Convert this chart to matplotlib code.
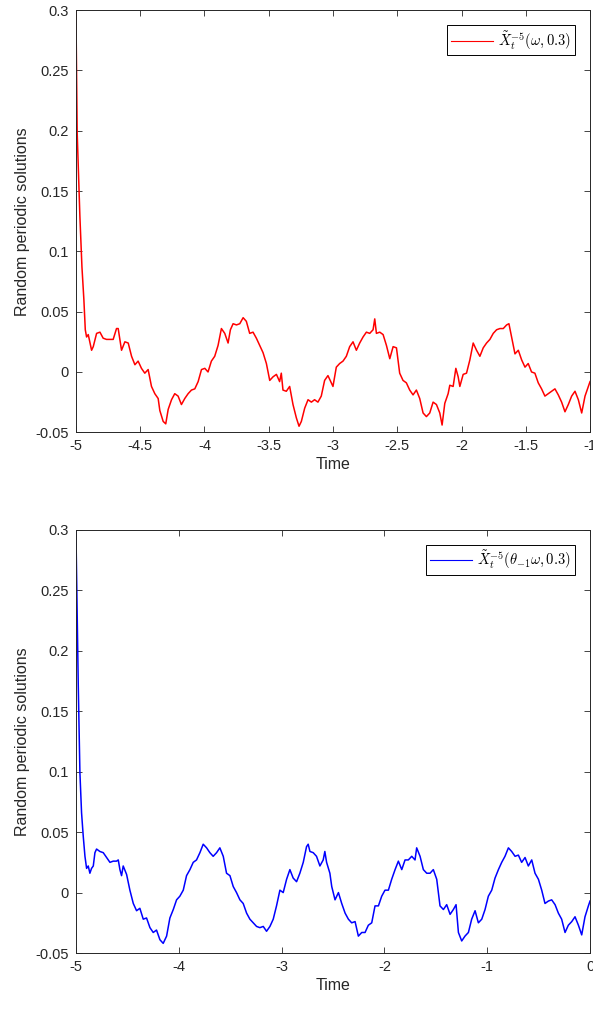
import matplotlib
matplotlib.use("Agg")
import matplotlib.pyplot as plt
from matplotlib.ticker import FixedLocator, FixedFormatter

plt.rcParams['font.family'] = ['Liberation Sans', 'DejaVu Sans']
plt.rcParams['mathtext.fontset'] = 'cm'
plt.rcParams['axes.unicode_minus'] = False

# === Data: X~_t^{-5}(omega, 0.3) ===
t_red = [-5.000, -4.990, -4.969, -4.953, -4.938, -4.927, -4.917, -4.904, -4.878, -4.865,
         -4.839, -4.813, -4.788, -4.762, -4.736, -4.710, -4.684, -4.671, -4.645, -4.619,
         -4.593, -4.567, -4.541, -4.516, -4.490, -4.464, -4.438, -4.412, -4.386, -4.360,
         -4.347, -4.321, -4.301, -4.282, -4.256, -4.231, -4.205, -4.179, -4.153, -4.127,
         -4.101, -4.075, -4.049, -4.023, -3.997, -3.972, -3.946, -3.920, -3.894, -3.868,
         -3.842, -3.816, -3.798, -3.777, -3.751, -3.725, -3.699, -3.674, -3.648, -3.622,
         -3.596, -3.570, -3.544, -3.518, -3.492, -3.466, -3.440, -3.415, -3.402, -3.389,
         -3.363, -3.337, -3.311, -3.285, -3.264, -3.246, -3.220, -3.194, -3.168, -3.143,
         -3.117, -3.091, -3.065, -3.039, -3.000, -2.974, -2.948, -2.922, -2.896, -2.870,
         -2.844, -2.818, -2.792, -2.766, -2.740, -2.714, -2.688, -2.675, -2.662, -2.636,
         -2.610, -2.584, -2.558, -2.532, -2.506, -2.481, -2.455, -2.429, -2.403, -2.377,
         -2.351, -2.325, -2.299, -2.273, -2.247, -2.221, -2.195, -2.169, -2.151, -2.130,
         -2.104, -2.091, -2.065, -2.044, -2.026, -2.013, -1.987, -1.961, -1.935, -1.909,
         -1.883, -1.857, -1.831, -1.805, -1.779, -1.753, -1.727, -1.701, -1.675, -1.649,
         -1.631, -1.610, -1.584, -1.558, -1.532, -1.506, -1.481, -1.455, -1.429, -1.403,
         -1.377, -1.351, -1.325, -1.299, -1.273, -1.247, -1.221, -1.195, -1.169, -1.143,
         -1.117, -1.091, -1.065, -1.039, -1.013, -1.000]
x_red = [0.300, 0.198, 0.129, 0.087, 0.060, 0.035, 0.029, 0.031, 0.018, 0.021,
         0.032, 0.033, 0.028, 0.027, 0.027, 0.027, 0.036, 0.036, 0.018, 0.025,
         0.024, 0.013, 0.006, 0.009, 0.003, -0.001, 0.002, -0.012, -0.018, -0.022,
         -0.032, -0.041, -0.043, -0.031, -0.023, -0.018, -0.020, -0.027, -0.022, -0.018,
         -0.015, -0.014, -0.008, 0.002, 0.003, 0.000, 0.009, 0.013, 0.022, 0.036,
         0.032, 0.024, 0.035, 0.040, 0.039, 0.040, 0.045, 0.042, 0.032, 0.033,
         0.028, 0.022, 0.016, 0.007, -0.007, -0.004, -0.002, -0.008, -0.001, -0.015,
         -0.016, -0.012, -0.027, -0.038, -0.045, -0.041, -0.030, -0.023, -0.025, -0.023,
         -0.025, -0.020, -0.007, -0.003, -0.012, 0.004, 0.007, 0.009, 0.013, 0.021,
         0.025, 0.018, 0.024, 0.029, 0.033, 0.032, 0.035, 0.044, 0.032, 0.033,
         0.031, 0.022, 0.011, 0.021, 0.020, -0.001, -0.007, -0.009, -0.015, -0.019,
         -0.015, -0.022, -0.034, -0.037, -0.034, -0.025, -0.027, -0.034, -0.044, -0.026,
         -0.018, -0.011, -0.012, 0.003, -0.004, -0.012, -0.002, -0.001, 0.010, 0.024,
         0.018, 0.013, 0.020, 0.024, 0.027, 0.032, 0.035, 0.036, 0.036, 0.039,
         0.040, 0.029, 0.015, 0.018, 0.010, 0.004, 0.007, 0.000, -0.001, -0.009,
         -0.014, -0.020, -0.018, -0.016, -0.014, -0.019, -0.025, -0.033, -0.027, -0.020,
         -0.016, -0.023, -0.034, -0.020, -0.012, -0.008]

# === X~_t^{-5}(theta_{-1} omega, 0.3) ===
t_blue = [-5.000, -4.977, -4.961, -4.945, -4.929, -4.912, -4.896, -4.880, -4.864, -4.848,
          -4.831, -4.815, -4.799, -4.767, -4.734, -4.702, -4.669, -4.637, -4.605, -4.588,
          -4.572, -4.556, -4.540, -4.507, -4.475, -4.442, -4.410, -4.378, -4.345, -4.313,
          -4.280, -4.248, -4.216, -4.183, -4.151, -4.118, -4.086, -4.053, -4.021, -3.989,
          -3.956, -3.924, -3.891, -3.859, -3.827, -3.794, -3.762, -3.729, -3.697, -3.665,
          -3.632, -3.600, -3.567, -3.535, -3.502, -3.470, -3.438, -3.405, -3.373, -3.340,
          -3.308, -3.276, -3.243, -3.211, -3.178, -3.146, -3.113, -3.081, -3.049, -3.016,
          -2.984, -2.951, -2.919, -2.887, -2.854, -2.822, -2.789, -2.757, -2.741, -2.724,
          -2.692, -2.660, -2.627, -2.595, -2.579, -2.562, -2.530, -2.512, -2.480, -2.447,
          -2.415, -2.382, -2.350, -2.318, -2.285, -2.253, -2.220, -2.188, -2.156, -2.123,
          -2.091, -2.058, -2.026, -1.994, -1.961, -1.929, -1.896, -1.864, -1.831, -1.799,
          -1.767, -1.734, -1.702, -1.686, -1.653, -1.621, -1.588, -1.556, -1.524, -1.491,
          -1.459, -1.426, -1.394, -1.361, -1.329, -1.303, -1.280, -1.248, -1.216, -1.183,
          -1.151, -1.118, -1.086, -1.053, -1.021, -0.989, -0.956, -0.924, -0.891, -0.859,
          -0.827, -0.794, -0.762, -0.729, -0.697, -0.665, -0.632, -0.600, -0.567, -0.535,
          -0.502, -0.470, -0.438, -0.405, -0.373, -0.340, -0.308, -0.276, -0.243, -0.211,
          -0.178, -0.146, -0.113, -0.081, -0.049, -0.016, 0.000]
x_blue = [0.300, 0.171, 0.099, 0.066, 0.047, 0.030, 0.020, 0.022, 0.016, 0.020,
          0.022, 0.033, 0.036, 0.034, 0.033, 0.029, 0.025, 0.026, 0.026, 0.027,
          0.019, 0.014, 0.022, 0.015, 0.002, -0.009, -0.015, -0.013, -0.022, -0.021,
          -0.029, -0.033, -0.031, -0.039, -0.042, -0.036, -0.021, -0.014, -0.006, -0.003,
          0.002, 0.014, 0.019, 0.025, 0.027, 0.033, 0.040, 0.037, 0.033, 0.030,
          0.033, 0.037, 0.030, 0.016, 0.014, 0.005, 0.000, -0.006, -0.009, -0.017,
          -0.022, -0.025, -0.028, -0.029, -0.028, -0.032, -0.028, -0.022, -0.011, 0.002,
          0.000, 0.011, 0.019, 0.012, 0.009, 0.016, 0.025, 0.038, 0.040, 0.034,
          0.033, 0.030, 0.022, 0.027, 0.034, 0.025, 0.016, 0.005, -0.006, 0.000,
          -0.009, -0.017, -0.022, -0.025, -0.024, -0.036, -0.033, -0.033, -0.027, -0.025,
          -0.011, -0.011, -0.003, 0.002, 0.002, 0.011, 0.019, 0.026, 0.019, 0.027,
          0.027, 0.030, 0.027, 0.037, 0.030, 0.019, 0.016, 0.016, 0.019, 0.011,
          -0.011, -0.014, -0.010, -0.018, -0.014, -0.010, -0.033, -0.040, -0.036, -0.033,
          -0.022, -0.015, -0.025, -0.022, -0.014, -0.003, 0.002, 0.012, 0.019, 0.025,
          0.030, 0.037, 0.034, 0.030, 0.031, 0.025, 0.029, 0.022, 0.027, 0.016,
          0.011, 0.002, -0.009, -0.007, -0.006, -0.010, -0.017, -0.022, -0.033, -0.027,
          -0.024, -0.020, -0.027, -0.035, -0.020, -0.011, -0.007]

y_ticks = [-0.05, 0, 0.05, 0.1, 0.15, 0.2, 0.25, 0.3]
y_labels = ['-0.05', '0', '0.05', '0.1', '0.15', '0.2', '0.25', '0.3']
xt_top = [-5, -4.5, -4, -3.5, -3, -2.5, -2, -1.5, -1]
xl_top = ['-5', '-4.5', '-4', '-3.5', '-3', '-2.5', '-2', '-1.5', '-1']
xt_bot = [-5, -4, -3, -2, -1, 0]
xl_bot = ['-5', '-4', '-3', '-2', '-1', '0']

axc = '#262626'

def style_axes(ax, xt, xl, xlim):
    ax.set_xlim(*xlim)
    ax.set_ylim(-0.05, 0.3)
    ax.xaxis.set_major_locator(FixedLocator(xt))
    ax.xaxis.set_major_formatter(FixedFormatter(xl))
    ax.yaxis.set_major_locator(FixedLocator(y_ticks))
    ax.yaxis.set_major_formatter(FixedFormatter(y_labels))
    ax.tick_params(direction='in', top=True, right=True, length=4, width=0.6,
                   labelsize=10.5, colors=axc, pad=5)
    for s in ax.spines.values():
        s.set_color(axc)
        s.set_linewidth(0.7)
    ax.set_xlabel('Time', fontsize=11.5, color=axc, labelpad=3)
    ax.set_ylabel('Random periodic solutions', fontsize=11.5, color=axc, labelpad=4)

fig = plt.figure(figsize=(5.93, 10.10), dpi=100)
ax1 = fig.add_axes([0.128, 0.572, 0.867, 0.418])
ax2 = fig.add_axes([0.128, 0.0564, 0.867, 0.419])

ax1.plot(t_red, x_red, color='red', lw=1.1, label=r'$\tilde{X}_t^{-5}(\omega,0.3)$')
style_axes(ax1, xt_top, xl_top, (-5, -1))

ax2.plot(t_blue, x_blue, color='blue', lw=1.1, label=r'$\tilde{X}_t^{-5}(\theta_{-1}\omega,0.3)$')
style_axes(ax2, xt_bot, xl_bot, (-5, 0))

for ax in (ax1, ax2):
    leg = ax.legend(loc='upper right', fontsize=10.5, fancybox=False, framealpha=1,
                    edgecolor='black', borderpad=0.25, handlelength=2.9,
                    handletextpad=0.35, borderaxespad=1.05)
    leg.get_frame().set_linewidth(0.7)
    for line in leg.get_lines():
        line.set_linewidth(0.8)

fig.savefig('out.png', dpi=100)
